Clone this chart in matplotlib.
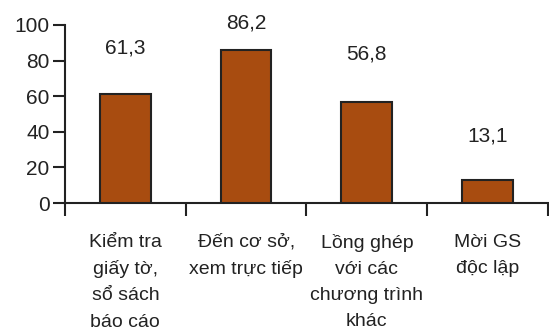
import matplotlib
matplotlib.use("Agg")
import matplotlib.pyplot as plt

categories = [
    "Kiểm tra\ngiấy tờ,\nsổ sách\nbáo cáo",
    "Đến cơ sở,\nxem trực tiếp",
    "Lồng ghép\nvới các\nchương trình\nkhác",
    "Mời GS\nđộc lập",
]
values = [61.3, 86.2, 56.8, 13.1]
value_labels = ["61,3", "86,2", "56,8", "13,1"]
yticks = [0, 20, 40, 60, 80, 100]

# how far above each bar its number sits
label_gap = [26, 15, 27, 24.5]

plt.rcParams["font.family"] = ["Liberation Sans", "DejaVu Sans"]

fig = plt.figure(figsize=(5.49, 3.31), dpi=100)
ax = fig.add_axes([0.1184, 0.3867, 0.8796, 0.5378])

x = range(len(categories))
ax.bar(x, values, width=0.42, color="#A84C10", edgecolor="#222222", linewidth=1.5, zorder=3)

for i, (v, s) in enumerate(zip(values, value_labels)):
    ax.text(i, v + label_gap[i], s, ha="center", va="center", fontsize=15, color="#222222")

ax.set_xlim(-0.5, len(categories) - 0.5)
ax.set_ylim(0, 100)
ax.set_yticks(yticks)
ax.set_yticklabels([str(t) for t in yticks], fontsize=15, color="#222222")

# category labels sit under the bars, tick marks sit on the boundaries
ax.set_xticks(list(x))
ax.set_xticklabels(categories, fontsize=14, color="#222222", linespacing=1.7, va="top")
ax.tick_params(axis="x", which="major", length=0, pad=22)
ax.set_xticks([i - 0.5 for i in range(len(categories) + 1)], minor=True)
ax.tick_params(axis="x", which="minor", length=9, width=1.5, color="#222222", direction="out")
ax.tick_params(axis="y", length=9, width=1.5, color="#222222", pad=2)

for side in ("top", "right"):
    ax.spines[side].set_visible(False)
for side in ("left", "bottom"):
    ax.spines[side].set_linewidth(1.5)
    ax.spines[side].set_color("#222222")

fig.savefig("out.png", dpi=100)
